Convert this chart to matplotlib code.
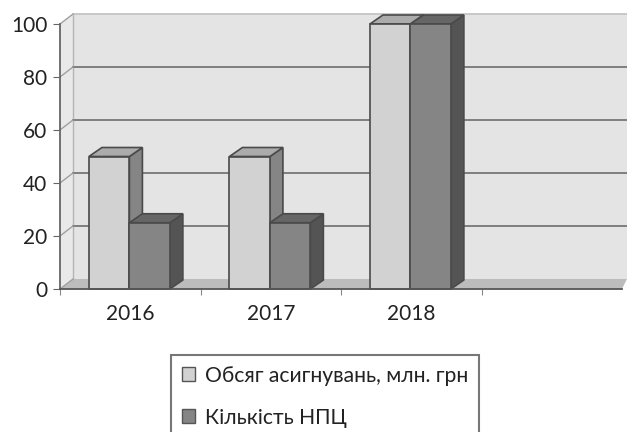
import matplotlib
matplotlib.use("Agg")
import matplotlib.pyplot as plt
from matplotlib.patches import Patch, Polygon

plt.rcParams['font.family'] = ['Lato', 'DejaVu Sans']

years = ['2016', '2017', '2018']
allocations = [50, 50, 100]
npc_count = [25, 25, 100]
y_ticks = [0, 20, 40, 60, 80, 100]
series_names = ['Обсяг асигнувань, млн. грн', 'Кількість НПЦ']

W, H = 627, 432
fig = plt.figure(figsize=(W / 100, H / 100), dpi=100)
ax = fig.add_axes([60 / W, 1 - 289 / H, 562 / W, 265 / H])
ax.set_xlim(0, 4)
ax.set_ylim(0, 100)

# depth of the fake 3d box, in data units
dx = 13 / 140.5
dy = 10 / 2.65
bar_w = 0.288
bar_off = 0.206

edge = '#4a4a4a'
grid_col = '#777777'


def poly(points, face, z, ec='none', lw=0):
    ax.add_patch(Polygon(points, closed=True, facecolor=face, edgecolor=ec,
                         linewidth=lw, zorder=z, clip_on=False))


def bar3d(x, h, front, top, side, z):
    poly([(x + bar_w, 0), (x + bar_w + dx, dy * 0.9), (x + bar_w + dx, h + dy * 0.9), (x + bar_w, h)],
         side, z, edge, 1.2)
    poly([(x, h), (x + dx, h + dy * 0.9), (x + bar_w + dx, h + dy * 0.9), (x + bar_w, h)],
         top, z, edge, 1.2)
    poly([(x, 0), (x, h), (x + bar_w, h), (x + bar_w, 0)], front, z + 0.1, edge, 1.2)


# walls and floor
right = 4 + 5 / 140.5
poly([(dx, dy), (dx, 100 + dy), (right, 100 + dy), (right, dy)], '#e4e4e4', 1)
poly([(0, 0), (0, 100), (dx, 100 + dy), (dx, dy)], '#e9e9e9', 1)
poly([(0, 0), (dx, dy), (right, dy), (4, 0)], '#bcbcbc', 1.5)
ax.plot([dx, dx], [dy, 100 + dy], color='#b5b5b5', lw=1, zorder=2, clip_on=False)

for t in y_ticks:
    light = t == 100
    col = '#c4c4c4' if light else grid_col
    if t > 0:
        ax.plot([dx, right], [t + dy, t + dy], color=col, lw=1.3, zorder=2, clip_on=False)
    ax.plot([0, dx], [t, t + dy], color='#a0a0a0', lw=1, zorder=2, clip_on=False)

for i in range(len(years)):
    bar3d(i + bar_off, allocations[i], '#d2d2d2', '#ababab', '#858585', 3 + i)
    bar3d(i + bar_off + bar_w, npc_count[i], '#858585', '#666666', '#545454', 3.5 + i)

for s in ['top', 'right']:
    ax.spines[s].set_visible(False)
ax.spines['left'].set_color('#666666')
ax.spines['left'].set_linewidth(1.3)
ax.spines['bottom'].set_color('#555555')
ax.spines['bottom'].set_linewidth(1.3)
ax.spines['bottom'].set_zorder(10)

ax.set_yticks(y_ticks)
ax.set_xticks(range(4))
ax.set_xticklabels([])
ax.set_xticks([i + 0.5 for i in range(3)], years, minor=True)
ax.tick_params(axis='x', which='major', length=4, color='#888888')
ax.tick_params(axis='x', which='minor', length=0, pad=11, labelsize=15, labelcolor='#222222')
ax.tick_params(axis='y', length=5, pad=4, color='#666666', labelsize=15, labelcolor='#222222')

# legend runs off the bottom of the picture like in the scan
handles = [Patch(facecolor='#d2d2d2', edgecolor='#555555', linewidth=1),
           Patch(facecolor='#858585', edgecolor='#555555', linewidth=1)]
leg = ax.legend(handles, series_names, loc='upper left',
                bbox_to_anchor=(171 / W, 1 - 355 / H), bbox_transform=fig.transFigure,
                fontsize=15.2, fancybox=False, edgecolor='#777777', framealpha=1,
                handlelength=0.65, handleheight=0.65, handletextpad=0.45,
                labelspacing=1.05, borderpad=0.5, borderaxespad=0, labelcolor='#222222')
leg.get_frame().set_linewidth(1.5)

fig.savefig('out.png', dpi=100, facecolor='white')
